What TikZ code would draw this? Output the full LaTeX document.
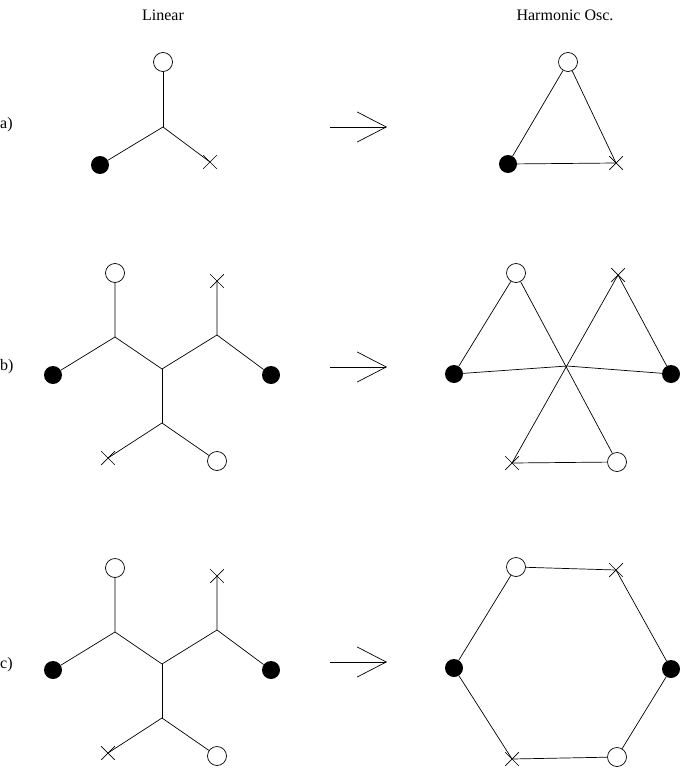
\documentclass[tikz,border=0pt]{standalone}
\usepackage{fontspec}
\setmainfont{Liberation Serif}
\usetikzlibrary{shapes.misc,arrows.meta}
\tikzstyle{whitestyle}=[draw, circle, fill=white, inner sep=0pt, minimum size=19pt, line width=0.7pt]
\tikzstyle{blackstyle}=[circle, fill=black, inner sep=0pt, minimum size=18pt]
\tikzstyle{crossstyle}=[draw, cross out, inner sep=0pt, minimum size=13pt, line width=0.7pt]
\tikzstyle{texto}=[font=\fontsize{16}{19}\selectfont, inner sep=0pt]
\tikzstyle{line}=[draw, line width=0.7pt]
\tikzstyle{big arrow}=[draw, line width=0.7pt, -{Straight Barb[length=29pt,width=30pt]}]
\newcommand{\whitenode}[1]{node (#1) [whitestyle] {}}
\newcommand{\blacknode}[1]{node (#1) [blackstyle] {}}
\newcommand{\crossnode}[1]{node (#1) [crossstyle] {}}

\begin{document}
\begin{tikzpicture}[x=1pt, y=-1pt]
\useasboundingbox (0,0) rectangle (681,768);
% Titles and row labels
\path (163,15) node (t1) [texto] {Linear};
\path (565,15) node (t2) [texto] {Harmonic Osc.};
\path (0,125) node (la) [texto, anchor=west] {a)};
\path (0,367) node (lb) [texto, anchor=west] {b)};
\path (0,665) node (lc) [texto, anchor=west] {c)};

% a) linear
\coordinate (a0) at (163,127);
\path (a0) + (0,-65) \whitenode{a1};
\path (a0) + (-63,38) \blacknode{a2};
\path (a0) + (47,35) \crossnode{a3};
\path [line] (a0) -- (a1);
\path [line] (a0) -- (a2);
\path [line] (a0) -- (a3.center);

% a) harmonic
\path (568,62) \whitenode{h1};
\path (508,164) \blacknode{h2};
\path (616,163) \crossnode{h3};
\path [line] (h1) -- (h2);
\path [line] (h1) -- (h3.center);
\path [line] (h2) -- (h3.center);

% Arrows
\coordinate (s1) at (330,127); \coordinate (e1) at (387,127);
\coordinate (s2) at (330,367); \coordinate (e2) at (387,367);
\coordinate (s3) at (330,662); \coordinate (e3) at (387,662);
\path [big arrow] (s1) -- (e1);
\path [big arrow] (s2) -- (e2);
\path [big arrow] (s3) -- (e3);

% b) linear
\coordinate (b0) at (162,369);
\coordinate (bl) at (115,337);
\coordinate (br) at (217,335);
\coordinate (bd) at (162,423);
\path (115,273) \whitenode{b1};
\path (53,375) \blacknode{b2};
\path (217,281) \crossnode{b3};
\path (271,375) \blacknode{b4};
\path (108,458) \crossnode{b5};
\path (217,461) \whitenode{b6};
\path [line] (b1) -- (bl) -- (b2);
\path [line] (bl) -- (b0) -- (br);
\path [line] (b3.center) -- (br) -- (b4);
\path [line] (b0) -- (bd);
\path [line] (b5.center) -- (bd) -- (b6);

% b) harmonic
\coordinate (k0) at (567,366);
\path (516,273) \whitenode{k1};
\path (618,275) \crossnode{k2};
\path (454,374) \blacknode{k3};
\path (671,374) \blacknode{k4};
\path (512,463) \crossnode{k5};
\path (617,462) \whitenode{k6};
\path [line] (k1) -- (k3);
\path [line] (k1) -- (k6);
\path [line] (k2.center) -- (k5.center);
\path [line] (k2.center) -- (k4);
\path [line] (k3) -- (k0) -- (k4);
\path [line] (k5.center) -- (k6);

\begin{scope}[shift={(0,295)}]
% c) linear
\coordinate (c0) at (162,369);
\coordinate (cl) at (115,337);
\coordinate (cr) at (217,335);
\coordinate (cd) at (162,423);
\path (115,273) \whitenode{c1};
\path (53,375) \blacknode{c2};
\path (217,281) \crossnode{c3};
\path (271,375) \blacknode{c4};
\path (108,458) \crossnode{c5};
\path (217,461) \whitenode{c6};
\path [line] (c1) -- (cl) -- (c2);
\path [line] (cl) -- (c0) -- (cr);
\path [line] (c3.center) -- (cr) -- (c4);
\path [line] (c0) -- (cd);
\path [line] (c5.center) -- (cd) -- (c6);

% c) harmonic
\path (516,272) \whitenode{m1};
\path (616,275) \crossnode{m2};
\path (671,374) \blacknode{m3};
\path (617,462) \whitenode{m4};
\path (512,464) \crossnode{m5};
\path (454,373) \blacknode{m6};
\path [line] (m1) -- (m2.center) -- (m3) -- (m4) -- (m5.center) -- (m6) -- (m1);
\end{scope}
\end{tikzpicture}
\end{document}
